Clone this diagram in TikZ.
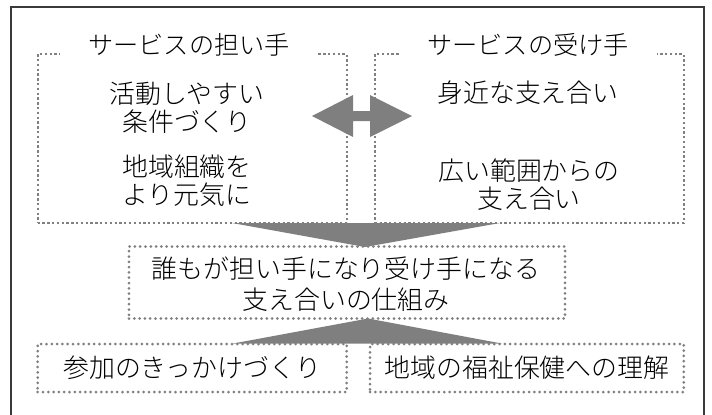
\documentclass[tikz,border=0pt]{standalone}
\usepackage{fontspec}
\IfFontExistsTF{Noto Sans CJK JP Light}
  {\newfontfamily\cjk{Noto Sans CJK JP Light}}
  {\newfontfamily\cjk{Noto Sans CJK JP}}
\definecolor{dotgray}{HTML}{808080}
\definecolor{arrowgray}{HTML}{7F7F7F}
\definecolor{framecol}{HTML}{3A3A3A}
\begin{document}
\begin{tikzpicture}[x=1bp,y=-1bp,
  txt/.style={font=\cjk\fontsize{26}{28.4}\selectfont, align=center, inner sep=0pt},
  ttl/.style={font=\cjk\fontsize{25.3}{27}\selectfont, fill=white, inner sep=0pt, minimum height=24bp, minimum width=257bp},
  sqdots/.style={draw=dotgray, line width=2.3bp, dash pattern=on 2.3bp off 2.5bp},
  rddots/.style={draw=dotgray, line width=3bp, line cap=round, dash pattern=on 0bp off 5.3bp},
  bigarrow/.style={fill=arrowgray, draw=none}]
\useasboundingbox (0,0) rectangle (712,414);
% outer frame (bottom edge lies outside the picture)
\draw[framecol, line width=1.6bp] (11,420) -- (11,7) -- (704,7) -- (704,420);

% top boxes
\node[sqdots, minimum width=309bp, minimum height=169bp] (L) at (192.2,138.5) {};
\node[sqdots, minimum width=309bp, minimum height=169bp] (R) at (529.2,138.5) {};
\node[ttl] (LT) at (189,45) {サービスの担い手};
\node[ttl] (RT) at (528,45) {サービスの受け手};

\node[txt] (L1) at (187,107.5) {活動しやすい\\条件づくり};
\node[txt] (L2) at (187,181) {地域組織を\\より元気に};
\node[txt] (R1) at (528,93) {身近な支え合い};
\node[txt] (R2) at (529,185) {広い範囲からの\\支え合い};

% middle box
\node[rddots, minimum width=436bp, minimum height=72bp] (M) at (347,282.5) {};
\node[txt, font=\cjk\fontsize{26}{31}\selectfont] (MT) at (346,284) {誰もが担い手になり受け手になる\\支え合いの仕組み};

% bottom boxes
\node[rddots, minimum width=309bp, minimum height=48bp] (BL) at (192.2,368) {};
\node[rddots, minimum width=313.7bp, minimum height=48bp] (BR) at (526.9,368) {};
\node[txt] (BLT) at (192.5,368) {参加のきっかけづくり};
\node[txt] (BRT) at (527,368) {地域の福祉保健への理解};

% arrows
\fill[bigarrow] (232,223) -- (500,223) -- (365,247) -- cycle;
\fill[bigarrow] (233,343.5) -- (501.7,343.5) -- (368,318.5) -- cycle;
\fill[bigarrow] (312,116) -- (353,95) -- (353,111) -- (370,111) -- (370,95)
  -- (412,116) -- (370,137) -- (370,121) -- (353,121) -- (353,137) -- cycle;
\end{tikzpicture}
\end{document}
